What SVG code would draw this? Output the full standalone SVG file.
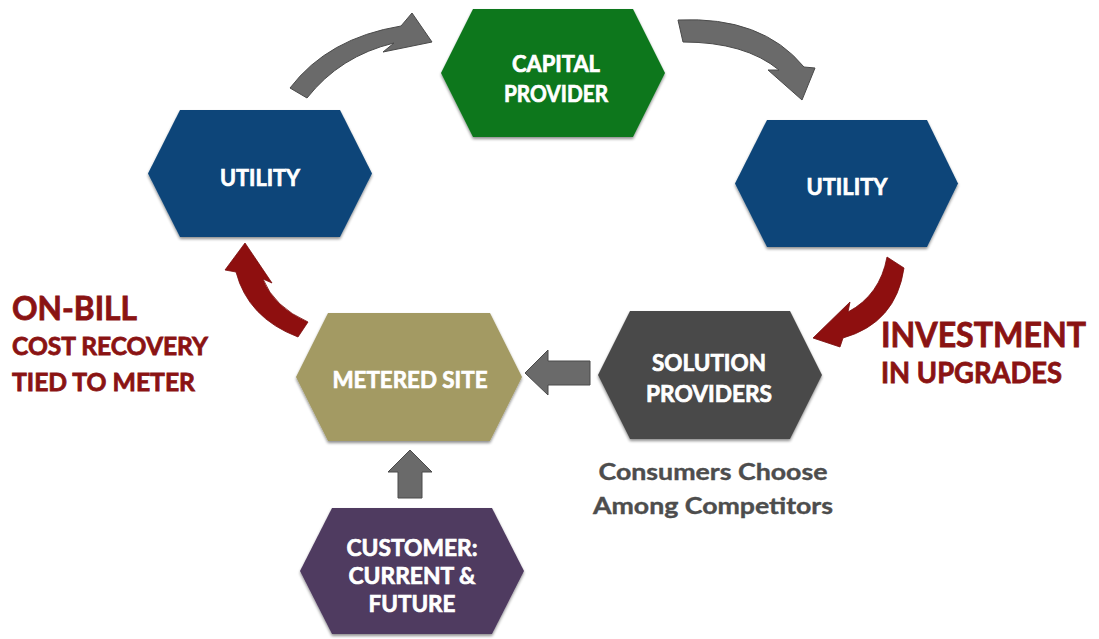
<svg xmlns="http://www.w3.org/2000/svg" width="1099" height="639" viewBox="0 0 1099 639">
  <defs>
    <filter id="shadow" x="-10%" y="-10%" width="120%" height="130%">
      <feGaussianBlur in="SourceAlpha" stdDeviation="1.5"/>
      <feOffset dx="0" dy="2" result="b"/>
      <feComponentTransfer><feFuncA type="linear" slope="0.45"/></feComponentTransfer>
      <feMerge><feMergeNode/><feMergeNode in="SourceGraphic"/></feMerge>
    </filter>
  </defs>
  <style>
    .hex { filter: url(#shadow); }
    .lbl { font-family: Lato, "Liberation Sans", sans-serif; font-weight: bold; font-size: 23px; fill: #ffffff; text-anchor: middle; stroke: #ffffff; stroke-width: 0.7px; }
    .note { font-family: Lato, "Liberation Sans", sans-serif; font-weight: bold; fill: #8a1313; stroke: #8a1313; stroke-width: 0.8px; }
    .sub { font-family: Lato, "Liberation Sans", sans-serif; font-weight: bold; font-size: 23px; fill: #4d4d4d; stroke: #4d4d4d; stroke-width: 0.4px; text-anchor: middle; }
    .grey { fill: #6a6a6a; stroke: #4a4a4a; stroke-width: 1; stroke-linejoin: round; }
    .red { fill: #8e0f0f; stroke: #7a0c0c; stroke-width: 0.8; stroke-linejoin: round; }
  </style>

  <!-- connectors -->
  <g id="connectors">
    <!-- utility to capital provider -->
    <path class="grey" d="M290,88 Q328,38 401,26 L412,13 L432,42 L383,52 L394,43 Q340,56 307,98 Z"/>
    <!-- capital provider to utility -->
    <path class="grey" d="M678,20 Q762,16 804,67 L815,68 L802,100 L768,70 L779,70 Q745,42 683,42 Z"/>
    <!-- utility to solution providers -->
    <path class="red" d="M887,257 L904,268 Q896,323 843,338 L840,347 L813,338 L850,302 L848,312 Q880,295 887,257 Z"/>
    <!-- metered site to utility -->
    <path class="red" d="M308,322 Q274,307 263,279 L272,283 L245,243 L225,270 L236,272 Q248,318 298,337 Z"/>
    <!-- solution providers to metered site -->
    <path class="grey" d="M590,361 L548,361 L548,350 L525,373 L548,395 L548,385 L590,385 Z"/>
    <!-- customer to metered site -->
    <path class="grey" d="M398,498 L398,472 L388,472 L410,450 L432,472 L422,472 L422,498 Z"/>
  </g>

  <g id="capital-provider">
    <polygon class="hex" points="441,73 473,9 633,9 665,73 633,137 473,137" fill="#0a771e"/>
    <text class="lbl" x="556" y="72" textLength="88" lengthAdjust="spacingAndGlyphs">CAPITAL</text>
    <text class="lbl" x="556" y="102" textLength="104" lengthAdjust="spacingAndGlyphs">PROVIDER</text>
  </g>

  <g id="utility-left">
    <polygon class="hex" points="148,173.5 180,110 340,110 372,173.5 340,237 180,237" fill="#0c4579"/>
    <text class="lbl" x="260" y="186" textLength="80" lengthAdjust="spacingAndGlyphs">UTILITY</text>
  </g>

  <g id="utility-right">
    <polygon class="hex" points="735,183.5 767,120 927,120 958,183.5 927,247 767,247" fill="#0c4579"/>
    <text class="lbl" x="847" y="195" textLength="81" lengthAdjust="spacingAndGlyphs">UTILITY</text>
  </g>

  <g id="metered-site">
    <polygon class="hex" points="296,377 328,313 490,313 522,377 490,441 328,441" fill="#a39a63"/>
    <text class="lbl" x="410" y="388" textLength="155" lengthAdjust="spacingAndGlyphs">METERED SITE</text>
  </g>

  <g id="solution-providers">
    <polygon class="hex" points="598,375 630,311 790,311 822,375 790,439 630,439" fill="#4a4a4a"/>
    <text class="lbl" x="709" y="371" textLength="114" lengthAdjust="spacingAndGlyphs">SOLUTION</text>
    <text class="lbl" x="709" y="402" textLength="126" lengthAdjust="spacingAndGlyphs">PROVIDERS</text>
  </g>

  <g id="customer">
    <polygon class="hex" points="300,571 332,508 492,508 524,571 492,634 332,634" fill="#4f3b61"/>
    <text class="lbl" x="412" y="556" textLength="131" lengthAdjust="spacingAndGlyphs">CUSTOMER:</text>
    <text class="lbl" x="412" y="584" textLength="127" lengthAdjust="spacingAndGlyphs">CURRENT &amp;</text>
    <text class="lbl" x="412" y="612" textLength="87" lengthAdjust="spacingAndGlyphs">FUTURE</text>
  </g>

  <g id="on-bill-note">
    <text class="note" x="12" y="320" font-size="33" textLength="125" lengthAdjust="spacingAndGlyphs">ON-BILL</text>
    <text class="note" x="12" y="355" font-size="25" textLength="196" lengthAdjust="spacingAndGlyphs">COST RECOVERY</text>
    <text class="note" x="12" y="391" font-size="25" textLength="183" lengthAdjust="spacingAndGlyphs">TIED TO METER</text>
  </g>

  <g id="investment-note">
    <text class="note" x="881" y="347" font-size="34" textLength="205" lengthAdjust="spacingAndGlyphs">INVESTMENT</text>
    <text class="note" x="881" y="383" font-size="29" textLength="181" lengthAdjust="spacingAndGlyphs">IN UPGRADES</text>
  </g>

  <g id="competitors-note">
    <text class="sub" x="713" y="480" textLength="229" lengthAdjust="spacingAndGlyphs">Consumers Choose</text>
    <text class="sub" x="713" y="514" textLength="240" lengthAdjust="spacingAndGlyphs">Among Competitors</text>
  </g>
</svg>
